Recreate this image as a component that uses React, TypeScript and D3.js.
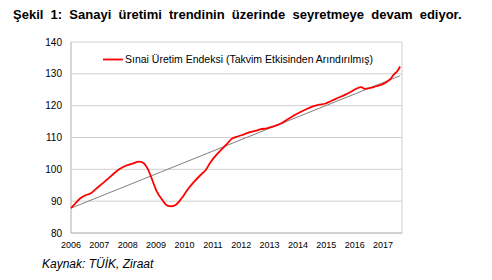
import React from "react";
import * as d3 from "d3";

const title = "Şekil 1: Sanayi üretimi trendinin üzerinde seyretmeye devam ediyor.";
const seriesName = "Sınai Üretim Endeksi (Takvim Etkisinden Arındırılmış)";
const source = "Kaynak: TÜİK, Ziraat";
const yTicks = [80, 90, 100, 110, 120, 130, 140];
const xTickYears = [2006, 2007, 2008, 2009, 2010, 2011, 2012, 2013, 2014, 2015, 2016, 2017];

const times = [
  2006.0, 2006.17, 2006.33, 2006.5, 2006.7, 2006.9, 2007.1, 2007.3, 2007.5, 2007.7,
  2007.95, 2008.2, 2008.4, 2008.55, 2008.7, 2008.85, 2009.0, 2009.2, 2009.4, 2009.55,
  2009.7, 2009.9, 2010.1, 2010.35, 2010.6, 2010.75, 2010.9, 2011.1, 2011.3, 2011.5,
  2011.65, 2011.9, 2012.1, 2012.3, 2012.5, 2012.7, 2012.9, 2013.1, 2013.4, 2013.6,
  2013.8, 2014.0, 2014.25, 2014.5, 2014.75, 2014.95, 2015.15, 2015.4, 2015.65, 2015.85,
  2016.05, 2016.23, 2016.35, 2016.55, 2016.75, 2016.95, 2017.15, 2017.28, 2017.38, 2017.5,
  2017.6,
];
const values = [
  87.8, 89.5, 90.9, 91.8, 92.5, 94.0, 95.5, 97.0, 98.6, 100.0,
  101.2, 101.9, 102.4, 102.0, 100.2, 97.0, 93.5, 90.6, 88.6, 88.4,
  88.9, 90.9, 93.5, 96.2, 98.5, 99.8, 102.0, 104.3, 106.2, 108.0,
  109.5, 110.4, 111.0, 111.7, 112.1, 112.6, 112.9, 113.4, 114.4, 115.5,
  116.6, 117.6, 118.7, 119.7, 120.3, 120.6, 121.4, 122.4, 123.4, 124.3,
  125.3, 125.8, 125.3, 125.6, 126.1, 126.6, 127.6, 128.6, 129.8, 130.8,
  132.3,
];
const trendTimes = [2006.0, 2017.6];
const trendValues = [87.8, 129.4];

export default function App() {
  const W = 492, H = 280;
  const left = 71, right = 402, top = 42, bottom = 233;
  const x = d3.scaleLinear().domain([2006, 2006 + 140 / 12]).range([left, right]);
  const y = d3.scaleLinear().domain([80, 140]).range([bottom, top]);
  const data = times.map((t, i) => [t, values[i]] as [number, number]);
  const trend = trendTimes.map((t, i) => [t, trendValues[i]] as [number, number]);
  const line = d3.line<[number, number]>().x(d => x(d[0])).y(d => y(d[1])).curve(d3.curveMonotoneX);
  const tline = d3.line<[number, number]>().x(d => x(d[0])).y(d => y(d[1]));
  const font = "'Liberation Sans', Arial, sans-serif";
  return (
    <svg width={W} height={H} style={{ position: "absolute", left: 0, top: 0, background: "#fff" }} fontFamily={font}>
      <rect x={0} y={0} width={W} height={H} fill="#fff" />
      <text x={13} y={19} fontSize={13} fontWeight="bold" fill="#000" wordSpacing={3.6}>{title}</text>
      {yTicks.map(v => (
        <g key={v}>
          <line x1={left} x2={right} y1={y(v)} y2={y(v)} stroke="#cfcfcf" strokeWidth={1} />
          <text x={62} y={y(v) + 3.5} fontSize={10} textAnchor="end" fill="#000">{v}</text>
        </g>
      ))}
      <line x1={left} x2={left} y1={top} y2={bottom} stroke="#bdbdbd" strokeWidth={1.2} />
      <line x1={right} x2={right} y1={top} y2={bottom} stroke="#cfcfcf" strokeWidth={1} />
      <line x1={left} x2={right} y1={bottom} y2={bottom} stroke="#bdbdbd" strokeWidth={1.2} />
      {xTickYears.map(yr => (
        <text key={yr} x={x(yr)} y={248} fontSize={9} textAnchor="middle" fill="#000">{yr}</text>
      ))}
      <path d={tline(trend) || ""} fill="none" stroke="#808080" strokeWidth={1} />
      <path d={line(data) || ""} fill="none" stroke="#ff0000" strokeWidth={1.8} />
      <line x1={103} x2={123} y1={59.5} y2={59.5} stroke="#ff0000" strokeWidth={1.8} />
      <text x={125} y={63} fontSize={10.5} fill="#000">{seriesName}</text>
      <text x={42} y={268} fontSize={12} fontStyle="italic" fill="#000">{source}</text>
    </svg>
  );
}
